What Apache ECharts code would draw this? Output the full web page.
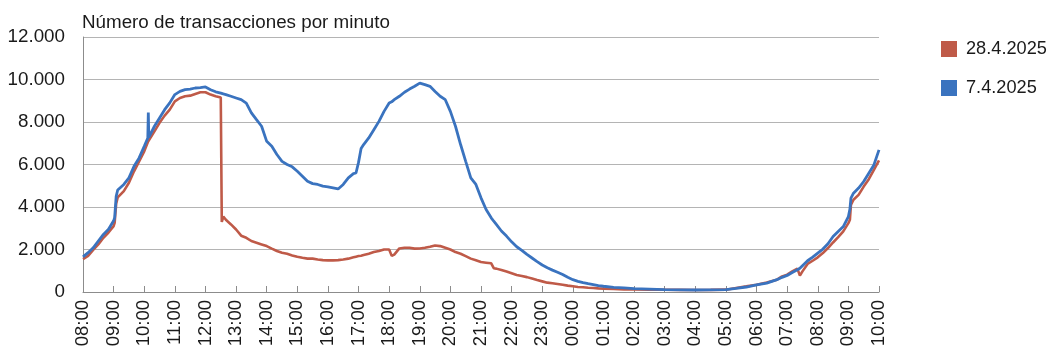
<!DOCTYPE html>
<html>
<head>
<meta charset="utf-8">
<script src="https://cdn.jsdelivr.net/npm/echarts@6/dist/echarts.min.js"></script>
<style>
  html, body { margin: 0; padding: 0; background: #fff; }
  #chart { width: 1050px; height: 351px; }
</style>
</head>
<body>
<div id="chart"></div>
<script>
// muestras (hora local, de 08:00 a 10:00 del día siguiente)
const times = [
  '08:00', '08:10', '08:20', '08:30', '08:40', '08:50', '09:00', '09:02', '09:05', '09:08',
  '09:10', '09:20', '09:30', '09:40', '09:50', '10:00', '10:07', '10:08', '10:09', '10:10',
  '10:20', '10:30', '10:40', '10:50', '11:00', '11:10', '11:20', '11:30', '11:40', '11:50',
  '12:00', '12:10', '12:20', '12:30', '12:31', '12:32', '12:35', '12:40', '12:50', '13:00',
  '13:10', '13:20', '13:30', '13:40', '13:50', '14:00', '14:10', '14:20', '14:30', '14:40',
  '14:50', '15:00', '15:10', '15:20', '15:30', '15:40', '15:50', '16:00', '16:10', '16:20',
  '16:30', '16:40', '16:50', '16:55', '17:00', '17:05', '17:10', '17:20', '17:30', '17:40',
  '17:50', '18:00', '18:05', '18:10', '18:20', '18:30', '18:40', '18:50', '19:00', '19:10',
  '19:20', '19:30', '19:40', '19:50', '20:00', '20:10', '20:20', '20:30', '20:40', '20:50',
  '21:00', '21:10', '21:20', '21:25', '21:30', '21:40', '21:50', '22:00', '22:10', '22:20',
  '22:30', '22:40', '22:50', '23:00', '23:10', '23:20', '23:30', '23:40', '23:50', '00:00',
  '00:10', '00:20', '00:30', '00:40', '00:50', '01:00', '01:20', '01:40', '02:00', '02:30',
  '03:00', '03:30', '04:00', '04:30', '05:00', '05:20', '05:40', '06:00', '06:20', '06:40',
  '06:50', '07:00', '07:10', '07:20', '07:22', '07:25', '07:30', '07:40', '07:50', '08:00',
  '08:10', '08:20', '08:30', '08:40', '08:50', '09:00', '09:03', '09:05', '09:10', '09:20',
  '09:30', '09:40', '09:50', '10:00'
]

const red = [ // 28.4.2025
  1550, 1700, 1980, 2240, 2550, 2800, 3100, 3250, 4150, 4450,
  4500, 4750, 5140, 5680, 6150, 6620, 7050, 7100, 7120, 7170,
  7560, 7960, 8300, 8580, 8970, 9130, 9210, 9240, 9320, 9400,
  9400, 9290, 9210, 9150, 9130, 3300, 3550, 3400, 3180, 2940,
  2650, 2550, 2400, 2320, 2240, 2160, 2040, 1930, 1850, 1800,
  1720, 1660, 1610, 1570, 1570, 1530, 1500, 1490, 1490, 1500,
  1530, 1570, 1630, 1660, 1690, 1710, 1740, 1800, 1880, 1930,
  2000, 2000, 1700, 1760, 2050, 2080, 2080, 2040, 2050, 2080,
  2130, 2190, 2160, 2080, 2000, 1880, 1800, 1690, 1570, 1490,
  1410, 1380, 1350, 1120, 1100, 1030, 960, 880, 800, 750,
  700, 630, 560, 500, 440, 410, 380, 340, 300, 270,
  235, 220, 200, 190, 170, 160, 140, 125, 120, 110,
  105, 100, 95, 100, 110, 190, 265, 345, 450, 580,
  735, 815, 970, 1100, 1150, 770, 970, 1320, 1470, 1630,
  1830, 2070, 2330, 2580, 2850, 3240, 3400, 4100, 4340, 4570,
  4960, 5310, 5750, 6190
]

const blue = [ // 7.4.2025
  1650, 1850, 2080, 2400, 2710, 2950, 3350, 3500, 4500, 4800,
  4850, 5060, 5370, 5920, 6310, 6860, 7250, 8450, 7280, 7330,
  7800, 8190, 8580, 8900, 9290, 9440, 9520, 9550, 9600, 9620,
  9650, 9520, 9420, 9360, 9350, 9340, 9320, 9290, 9210, 9130,
  9050, 8890, 8430, 8110, 7800, 7090, 6860, 6470, 6150, 6000,
  5890, 5680, 5450, 5210, 5100, 5060, 4980, 4950, 4900, 4850,
  5060, 5370, 5570, 5600, 6100, 6750, 6940, 7250, 7640, 8030,
  8500, 8890, 8950, 9050, 9210, 9400, 9550, 9680, 9830, 9760,
  9680, 9440, 9210, 9050, 8500, 7800, 6940, 6150, 5370, 5060,
  4430, 3880, 3490, 3330, 3180, 2870, 2630, 2360, 2130, 1960,
  1770, 1600, 1430, 1270, 1140, 1030, 930, 820, 690, 580,
  500, 440, 390, 345, 300, 270, 220, 190, 160, 140,
  110, 100, 95, 100, 110, 170, 235, 330, 420, 580,
  690, 780, 920, 1050, 1080, 1120, 1240, 1470, 1640, 1830,
  2020, 2270, 2610, 2850, 3080, 3550, 3900, 4420, 4650, 4890,
  5200, 5590, 5980, 6690
]

const legendNames = ['28.4.2025', '7.4.2025']
const colors = ['#bf5a48', '#3a73bf']

// minutos desde las 08:00, pasando la medianoche
let prev = -1
let dayOffset = 0
const minutes = times.map(t => {
  const [h, m] = t.split(':').map(Number)
  let v = h * 60 + m - 480 + dayOffset
  if (v < prev) {
    dayOffset += 1440
    v += 1440
  }
  prev = v
  return v
})

const toPairs = values => minutes.map((m, i) => [m, values[i]])

const thousands = v => String(v).replace(/\B(?=(\d{3})+(?!\d))/g, '.')

const hourLabel = m => {
  const h = (8 + Math.round(m / 60)) % 24
  return (h < 10 ? '0' : '') + h + ':00'
}

const chart = echarts.init(document.getElementById('chart'))
const font = 'Liberation Sans, Arial, Helvetica, sans-serif'

chart.setOption({
  animation: false,
  color: colors,
  title: {
    text: 'Número de transacciones por minuto',
    left: 77,
    top: 8,
    textStyle: { fontFamily: font, fontSize: 18.8, fontWeight: 'normal', color: '#1a1a1a' }
  },
  legend: {
    orient: 'vertical',
    left: 936,
    top: 35,
    itemWidth: 16,
    itemHeight: 16,
    itemGap: 21,
    icon: 'rect',
    data: legendNames,
    textStyle: { fontFamily: font, fontSize: 18.2, color: '#1a1a1a', padding: [0, 0, 0, 4] }
  },
  grid: { left: 83, right: 171, top: 37, bottom: 59, containLabel: false },
  xAxis: {
    type: 'value',
    min: 0,
    max: 1560,
    interval: 60,
    axisLine: { lineStyle: { color: '#8c8c8c', width: 1 } },
    axisTick: { show: true, inside: true, length: 6, lineStyle: { color: '#8c8c8c' } },
    splitLine: { show: false },
    axisLabel: {
      rotate: 90,
      margin: 8,
      fontFamily: font,
      fontSize: 18.5,
      color: '#1a1a1a',
      formatter: hourLabel
    }
  },
  yAxis: {
    type: 'value',
    min: 0,
    max: 12000,
    interval: 2000,
    axisLine: { show: true, lineStyle: { color: '#8c8c8c', width: 1 } },
    axisTick: { show: false },
    splitLine: { lineStyle: { color: '#b4b4b4', width: 1 } },
    axisLabel: {
      margin: 18,
      fontFamily: font,
      fontSize: 18.8,
      color: '#1a1a1a',
      formatter: thousands
    }
  },
  series: [
    {
      name: legendNames[0],
      type: 'line',
      data: toPairs(red),
      showSymbol: false,
      lineStyle: { width: 2.6 }
    },
    {
      name: legendNames[1],
      type: 'line',
      data: toPairs(blue),
      showSymbol: false,
      lineStyle: { width: 2.8 }
    }
  ]
})
</script>
</body>
</html>
